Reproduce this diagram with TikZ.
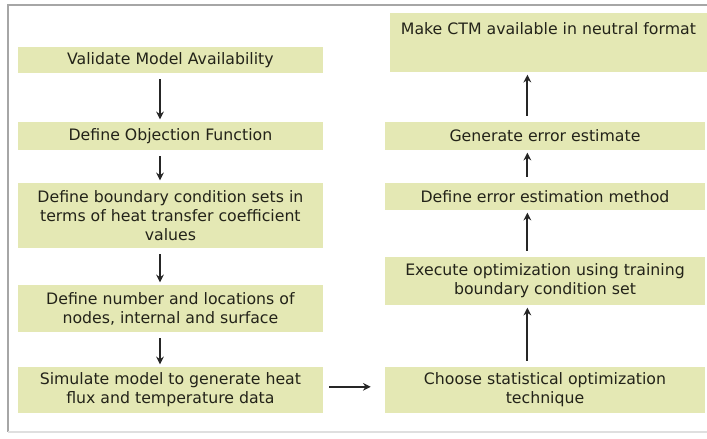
\documentclass[tikz,border=0pt]{standalone}
\usepackage{fontspec}
\setmainfont{DejaVu Sans}
\usetikzlibrary{arrows.meta}
\definecolor{boxfill}{RGB}{228,232,180}
\definecolor{textcol}{RGB}{35,35,25}
\tikzset{
  stepbox/.style={fill=boxfill, text=textcol, align=center, inner sep=2pt,
    font=\fontsize{11.2}{13.6}\selectfont},
  leftbox/.style={stepbox, minimum width=7.625cm},
  rightbox/.style={stepbox, minimum width=8cm},
  flow/.style={-{Stealth[length=5.5pt,width=5.5pt]}, line width=1.3pt, black!85, shorten <=0.15cm, shorten >=0.06cm}
}
\begin{document}
\begin{tikzpicture}
			\useasboundingbox (0,0) rectangle (17.675,10.975);
			% frame
			\draw[gray!70, line width=0.8pt] (17.675,10.85)--(0.2,10.85)--(0.2,0.175);
			\draw[gray!25, line width=0.8pt] (0.2,0.175)--(17.675,0.175);
			% left column
			\node[leftbox, minimum height=0.65cm] (valid) at(4.26,9.475){Validate Model Availability};
			\node[leftbox, minimum height=0.7cm] (objfn) at(4.26,7.575){Define Objection Function};
			\node[leftbox, minimum height=1.625cm] (bcsets) at(4.26,5.5875){Define boundary condition sets in\\terms of heat transfer coefficient\\values};
			\node[leftbox, minimum height=1.175cm] (nodes) at(4.26,3.2625){Define number and locations of\\nodes, internal and surface};
			\node[leftbox, minimum height=1.15cm] (simul) at(4.26,1.225){Simulate model to generate heat\\flux and temperature data};
			% right column
			\node[rightbox, minimum height=1.15cm] (choose) at(13.625,1.225){Choose statistical optimization\\technique};
			\node[rightbox, minimum height=1.2cm] (execute) at(13.625,3.95){Execute optimization using training\\boundary condition set};
			\node[rightbox, minimum height=0.675cm] (errmeth) at(13.625,6.0625){Define error estimation method};
			\node[rightbox, minimum height=0.7cm] (errest) at(13.625,7.575){Generate error estimate};
			\node[stepbox, minimum width=7.93cm, text height=13pt, text depth=25pt] (ctm) at(13.71,9.9125){Make CTM available in neutral format};
			% connectors
			\draw[flow]([xshift=-0.26cm]valid.south)--([xshift=-0.26cm]objfn.north);
			\draw[flow]([xshift=-0.26cm]objfn.south)--([xshift=-0.26cm]bcsets.north);
			\draw[flow]([xshift=-0.26cm]bcsets.south)--([xshift=-0.26cm]nodes.north);
			\draw[flow]([xshift=-0.26cm]nodes.south)--([xshift=-0.26cm]simul.north);
			\draw[flow, shorten >=0.35cm]([yshift=0.08cm]simul.east)--([yshift=0.08cm]simul.east -| choose.west);
			\draw[flow]([xshift=-0.44cm]choose.north)--([xshift=-0.44cm]execute.south);
			\draw[flow]([xshift=-0.44cm]execute.north)--([xshift=-0.44cm]errmeth.south);
			\draw[flow]([xshift=-0.44cm]errmeth.north)--([xshift=-0.44cm]errest.south);
			\draw[flow]([xshift=-0.44cm]errest.north)--([xshift=-0.44cm]errest.north |- ctm.south);
\end{tikzpicture}
\end{document}
